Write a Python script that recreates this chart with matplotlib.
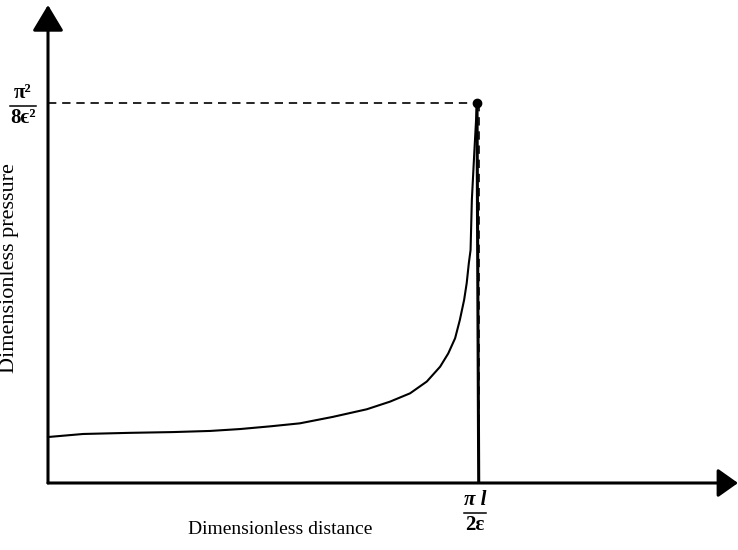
import matplotlib
matplotlib.use("Agg")
import matplotlib.pyplot as plt
from matplotlib.lines import Line2D

# curve: x in units of pi*l/(2 eps), y in units of pi^2/(8 eps^2)
dist = [0.0, 0.082, 0.191, 0.291, 0.378, 0.448, 0.517, 0.587, 0.664, 0.743,
        0.797, 0.844, 0.883, 0.914, 0.933, 0.949, 0.960, 0.970, 0.976, 0.981,
        0.985, 0.988, 0.994, 1.0]
pressure = [0.121, 0.129, 0.132, 0.134, 0.137, 0.142, 0.149, 0.157, 0.174, 0.194,
            0.214, 0.236, 0.267, 0.306, 0.341, 0.381, 0.429, 0.482, 0.526, 0.579,
            0.613, 0.745, 0.876, 1.0]
peak_x = 1.0
peak_y = 1.0
xtick_num, xtick_den = "\u03c0 l", "2\u03b5"
ytick_num, ytick_den = "\u03c0\u00b2", "8\u03f5\u00b2"

plt.rcParams["font.family"] = ["Liberation Serif", "DejaVu Serif"]

W, H = 738, 550
fig = plt.figure(figsize=(W / 100, H / 100), dpi=100)
ax = fig.add_axes([48 / W, 67 / H, (W - 48) / W, (483 - 5) / H])
xmax = (W - 48) / 429
ymax = (483 - 5) / 380
ax.set_xlim(0, xmax)
ax.set_ylim(0, ymax)
ax.axis("off")

# axes with arrow heads
ax.annotate("", xy=(xmax, 0), xytext=(0, 0), xycoords="data",
            arrowprops=dict(arrowstyle="-|>,head_length=0.62,head_width=0.44",
                            mutation_scale=20, lw=2.2, color="black",
                            shrinkA=0, shrinkB=0), annotation_clip=False)
ax.annotate("", xy=(0, ymax), xytext=(0, 0), xycoords="data",
            arrowprops=dict(arrowstyle="-|>,head_length=0.8,head_width=0.48",
                            mutation_scale=20, lw=2.2, color="black",
                            shrinkA=0, shrinkB=0), annotation_clip=False)

# pressure curve and drop
ax.plot(dist, pressure, color="black", lw=1.5, clip_on=False,
        solid_joinstyle="round")
ax.plot([peak_x, peak_x * 1.004], [peak_y, 0], color="black", lw=2.2)
ax.plot(peak_x, peak_y, "o", color="black", ms=6)

# dashed guides
ax.plot([0, peak_x], [peak_y, peak_y], color="black", lw=1.2, dashes=(5, 3.5))
ax.plot([peak_x * 1.005, peak_x * 1.005], [peak_y, 0], color="black", lw=1.2,
        dashes=(5, 3.5))


def px(x, y):
    return x / W, 1 - y / H


def fraction(cx, bar_y, num, den, half, num_style="normal"):
    fig.text(*px(cx, bar_y - 3), num, ha="center", va="bottom", fontsize=15,
             fontweight="bold", style=num_style)
    fig.text(*px(cx, bar_y + 2), den, ha="center", va="top", fontsize=15,
             fontweight="bold")
    (x0, y0), (x1, _) = px(cx - half, bar_y), px(cx + half, bar_y)
    fig.add_artist(Line2D([x0, x1], [y0, y0], color="black", lw=1.1,
                          transform=fig.transFigure))


fraction(23, 106, ytick_num, ytick_den, 13)
fraction(475, 513, xtick_num, xtick_den, 11, num_style="italic")

fig.text(*px(280, 530), "Dimensionless distance", ha="center", va="center",
         fontsize=14)
fig.text(*px(10, 268), "Dimensionless pressure", ha="center", va="center",
         rotation=90, fontsize=16)

fig.savefig("out.png", dpi=100)
